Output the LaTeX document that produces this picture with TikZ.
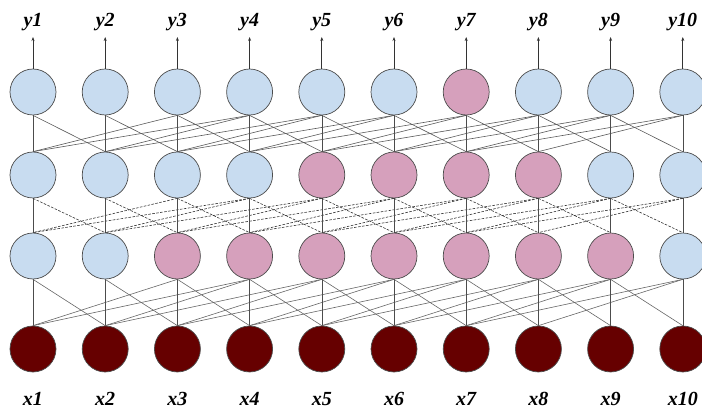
\documentclass[tikz,border=0pt]{standalone}
\usepackage{fontspec}
\setmainfont{Liberation Serif}
\usetikzlibrary{backgrounds,arrows.meta}
\definecolor{lblue}{RGB}{200,220,240}
\definecolor{lpink}{RGB}{214,160,188}
\definecolor{dred}{RGB}{102,0,0}
\begin{document}
\begin{tikzpicture}[x=1pt,y=-1pt,
  neuron/.style={circle,draw=black!70,line width=0.7pt,minimum size=46pt,inner sep=0pt},
  lab/.style={font=\fontsize{20}{20}\selectfont\bfseries\itshape,inner sep=0pt},
  con1/.style={draw=black!65,line width=0.6pt},
  con2/.style={draw=black!80,line width=0.6pt,dash pattern=on 2.6pt off 1.4pt},
  con3/.style={draw=black!60,line width=0.6pt},
  vcon/.style={draw=black!70,line width=0.6pt},
  outarrow/.style={draw=black!80,line width=0.7pt,-{Stealth[length=4pt,width=3pt]}}]
\clip (0,0) rectangle (702,414);
% row 1
\foreach \i/\c in {1/lblue,2/lblue,3/lblue,4/lblue,5/lblue,6/lblue,7/lpink,8/lblue,9/lblue,10/lblue}
  \node[neuron,fill=\c] (n1-\i) at ({33+72.2*(\i-1)},92) {};
% row 2
\foreach \i/\c in {1/lblue,2/lblue,3/lblue,4/lblue,5/lpink,6/lpink,7/lpink,8/lpink,9/lblue,10/lblue}
  \node[neuron,fill=\c] (n2-\i) at ({33+72.2*(\i-1)},175) {};
% row 3
\foreach \i/\c in {1/lblue,2/lblue,3/lpink,4/lpink,5/lpink,6/lpink,7/lpink,8/lpink,9/lpink,10/lblue}
  \node[neuron,fill=\c] (n3-\i) at ({33+72.2*(\i-1)},256) {};
% row 4
\foreach \i in {1,...,10}
  \node[neuron,fill=dred] (n4-\i) at ({33+72.2*(\i-1)},349) {};
% labels and output arrows
\foreach \i in {1,...,10} {
  \node[lab] (ylab-\i) at ({33+72.2*(\i-1)},22) {y\i};
  \node[lab] (xlab-\i) at ({33+72.2*(\i-1)},399) {x\i};
  \coordinate (a-\i) at ({33+72.2*(\i-1)},37);
  \draw[outarrow] (n1-\i.north) -- (a-\i);
}
% connections
\begin{pgfonlayer}{background}
\foreach \r/\s in {1/2,2/3,3/4} {
  \foreach \j in {1,...,10} {
    \draw[vcon] (n\r-\j.south) -- (n\s-\j.north);
    \foreach \d in {-1,2,3} {
      \pgfmathtruncatemacro\k{\j+\d}
      \ifnum\k>0 \ifnum\k<11
        \draw[con\r] (n\r-\k.south) -- (n\s-\j.north);
      \fi\fi
    }
  }
}
\end{pgfonlayer}
\end{tikzpicture}
\end{document}
